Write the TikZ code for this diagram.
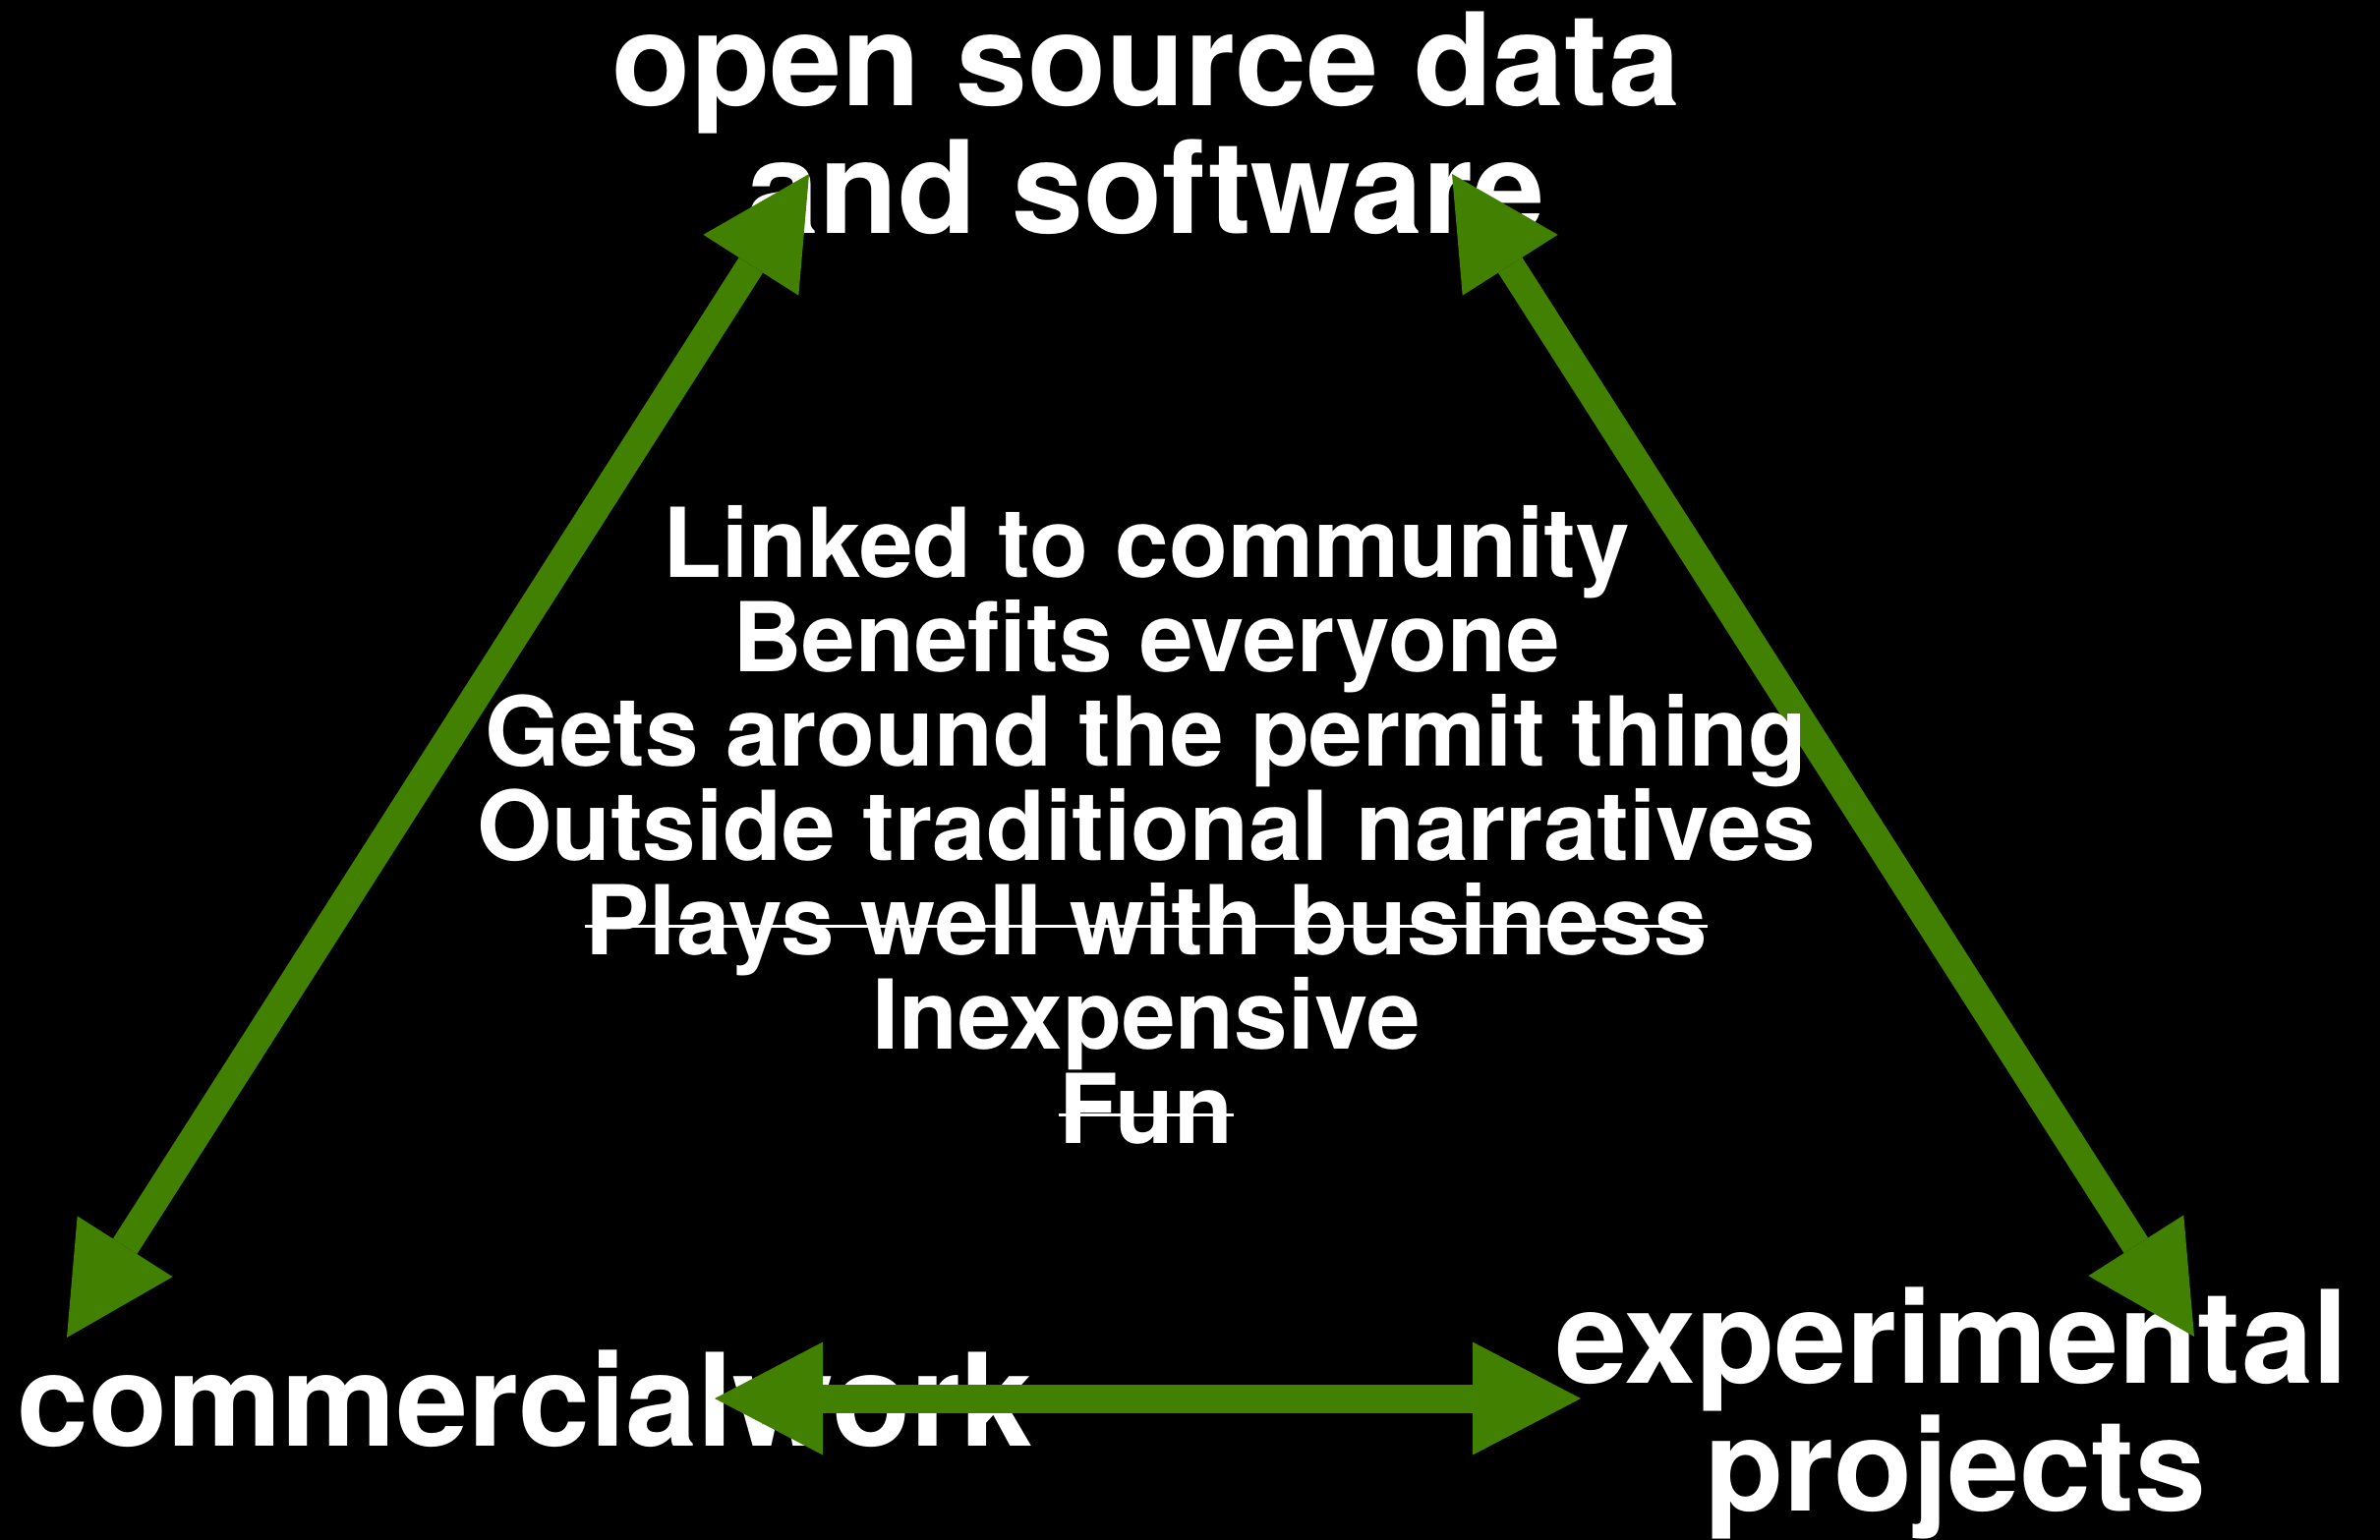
\documentclass[tikz,border=0pt]{standalone}
\usepackage{fontspec}
\setmainfont{TeX Gyre Heros}
\usepackage{tikz}
\usetikzlibrary{arrows.meta}
\definecolor{leafgreen}{RGB}{65,128,0}

\begin{document}
\begin{tikzpicture}[
  big/.style = {text=white, font=\fontsize{37.3}{37.3}\selectfont\bfseries, inner sep=0, anchor=base},
  item/.style = {text=white, font=\fontsize{27.9}{27.9}\selectfont\bfseries, inner sep=0, anchor=base},
  link/.style = {draw=leafgreen, color=leafgreen, line width=.29cm, {Triangle[length=1.1cm,width=1.15cm,line width=0pt]}-{Triangle[length=1.1cm,width=1.15cm,line width=0pt]}},
  strike/.style = {draw=white, line width=.03cm}]
\useasboundingbox (0,0) rectangle (24.21,-15.66);
\fill[black] (-.1,.1) rectangle (24.31,-15.76);

% the three corners
\node[big] (open) at (11.66,-1.07) {open source data};
\node[big] (soft) at (11.66,-2.37) {and software};
\node[big] (comm) at (5.34,-14.71) {commercialwork};
\node[big] (expe) at (19.86,-14.07) {experimental};
\node[big] (proj) at (19.89,-15.37) {projects};

% arrow tips
\coordinate (topL) at (8.23,-1.77);
\coordinate (topR) at (14.77,-1.77);
\coordinate (botL) at (0.68,-13.61);
\coordinate (botR) at (22.32,-13.60);
\coordinate (midL) at (7.27,-14.23);
\coordinate (midR) at (16.08,-14.23);

\draw[link] (topL) -- (botL);
\draw[link] (topR) -- (botR);
\draw[link] (midL) -- (midR);

% list in the middle
\node[item] (l1) at (11.66,-5.87) {Linked to community};
\node[item] (l2) at (11.66,-6.83) {Benefits everyone};
\node[item] (l3) at (11.66,-7.79) {Gets around the permit thing};
\node[item] (l4) at (11.66,-8.75) {Outside traditional narratives};
\node[item] (l5) at (11.66,-9.71) {Plays well with business};
\node[item] (l6) at (11.66,-10.67) {Inexpensive};
\node[item] (l7) at (11.66,-11.63) {Fun};
\draw[strike] ([yshift=.29cm]l5.base west) -- ([yshift=.29cm]l5.base east);
\draw[strike] ([yshift=.29cm]l7.base west) -- ([yshift=.29cm]l7.base east);
\end{tikzpicture}
\end{document}
